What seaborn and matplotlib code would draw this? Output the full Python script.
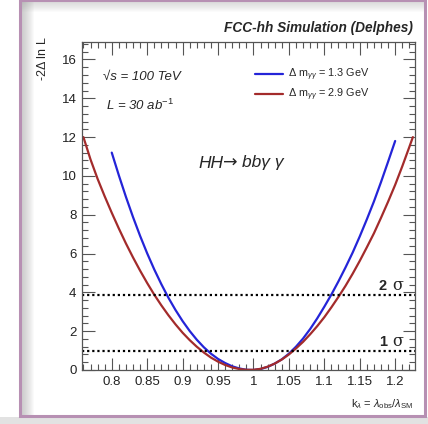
import numpy as np
import pandas as pd
import matplotlib
matplotlib.use("Agg")
import matplotlib.pyplot as plt
import seaborn as sns
from matplotlib.patches import Rectangle
from matplotlib.lines import Line2D
from matplotlib.ticker import MultipleLocator

# Values
kl_red = [0.76, 0.77, 0.78, 0.79, 0.80, 0.81, 0.82, 0.83, 0.84, 0.85, 0.86, 0.87,
          0.88, 0.89, 0.90, 0.91, 0.92, 0.93, 0.94, 0.95, 0.96, 0.97, 0.98, 0.99,
          1.00, 1.01, 1.02, 1.03, 1.04, 1.05, 1.06, 1.07, 1.08, 1.09, 1.10, 1.11,
          1.12, 1.13, 1.14, 1.15, 1.16, 1.17, 1.18, 1.19, 1.20, 1.21, 1.22, 1.225]
nll_red = [12.0, 10.85, 9.85, 8.95, 8.10, 7.29, 6.52, 5.80, 5.12, 4.48, 3.88, 3.33,
           2.82, 2.35, 1.92, 1.54, 1.20, 0.90, 0.64, 0.43, 0.26, 0.13, 0.05, 0.01,
           0.01, 0.06, 0.17, 0.33, 0.54, 0.80, 1.11, 1.45, 1.84, 2.26, 2.72, 3.23,
           3.77, 4.34, 4.96, 5.62, 6.32, 7.04, 7.84, 8.67, 9.54, 10.49, 11.49, 12.0]

kl_blue = [0.80, 0.81, 0.82, 0.83, 0.84, 0.85, 0.86, 0.87, 0.88, 0.89, 0.90,
           0.91, 0.92, 0.93, 0.94, 0.95, 0.96, 0.97, 0.98, 0.99, 1.00,
           1.01, 1.02, 1.03, 1.04, 1.05, 1.06, 1.07, 1.08, 1.09, 1.10,
           1.11, 1.12, 1.13, 1.14, 1.15, 1.16, 1.17, 1.18, 1.19, 1.20]
nll_blue = [11.2, 10.03, 8.92, 7.88, 6.91, 6.01, 5.18, 4.42, 3.72, 3.09, 2.52,
            2.01, 1.56, 1.17, 0.84, 0.57, 0.36, 0.19, 0.08, 0.01, 0.0,
            0.05, 0.16, 0.33, 0.55, 0.84, 1.20, 1.62, 2.11, 2.66, 3.26,
            3.89, 4.57, 5.29, 6.05, 6.88, 7.76, 8.68, 9.68, 10.73, 11.8]

labels = [r"$\Delta$ m$_{\gamma\gamma}$ = 1.3 GeV", r"$\Delta$ m$_{\gamma\gamma}$ = 2.9 GeV"]
colors = ["#2424d8", "#a32b2b"]
sigma_levels = [1.0, 3.84]
sigma_nums = ["1", "2"]

df = pd.concat([
    pd.DataFrame({"kl": kl_blue, "nll": nll_blue, "res": labels[0]}),
    pd.DataFrame({"kl": kl_red, "nll": nll_red, "res": labels[1]}),
])

sns.set_style("ticks")
plt.rcParams["font.family"] = ["Liberation Sans", "DejaVu Sans"]
plt.rcParams["mathtext.fontset"] = "custom"
plt.rcParams["mathtext.rm"] = "Liberation Sans"
plt.rcParams["mathtext.it"] = "Liberation Sans:italic"
plt.rcParams["mathtext.bf"] = "Liberation Sans:bold"

fig = plt.figure(figsize=(4.28, 4.24), dpi=100)

# frame with a soft shadow
for i in range(12):
    fig.patches.append(Rectangle((22 / 428, 8 / 424), (12 - i) / 428, 414 / 424, transform=fig.transFigure,
                                 color="#a0a0a0", alpha=0.05, lw=0, zorder=0))
    fig.patches.append(Rectangle((22 / 428, 1 - (10 - i) / 424 - 2 / 424), 402 / 428, (10 - i) / 424,
                                 transform=fig.transFigure, color="#a0a0a0", alpha=0.04, lw=0, zorder=0))
fig.patches.append(Rectangle((0, 0), 1, 7 / 424, transform=fig.transFigure,
                             color="#e2e2e2", lw=0, zorder=0))
fig.patches.append(Rectangle((20 / 428, 8 / 424), 405 / 428, 416 / 424, transform=fig.transFigure,
                             fill=False, edgecolor="#b790b3", lw=2.2, zorder=1))

ax = fig.add_axes([82 / 428, 54 / 424, 333 / 428, 328 / 424])
ax.patch.set_alpha(0)
sns.lineplot(data=df, x="kl", y="nll", hue="res", palette=colors,
             lw=1.6, ax=ax, legend=False, sort=False)

for lvl in sigma_levels:
    ax.axhline(lvl, color="black", ls=(0, (1, 1.3)), lw=1.6)

ax.set_xlim(0.758, 1.228)
ax.set_ylim(0, 16.9)
ax.xaxis.set_minor_locator(MultipleLocator(0.01))
ax.yaxis.set_minor_locator(MultipleLocator(0.4))
ax.set_xticks([0.8, 0.85, 0.9, 0.95, 1.0, 1.05, 1.1, 1.15, 1.2])
ax.set_xticklabels(["0.8", "0.85", "0.9", "0.95", "1", "1.05", "1.1", "1.15", "1.2"])
ax.set_yticks([0, 2, 4, 6, 8, 10, 12, 14, 16])
ax.tick_params(which="both", direction="in", top=True, right=True, colors="#555555",
               labelcolor="#222222", labelsize=9.5, width=0.8)
ax.tick_params(which="major", length=9, pad=4)
ax.tick_params(which="minor", length=4.5)
for s in ax.spines.values():
    s.set_color("#555555")
    s.set_linewidth(0.9)
ax.set_xlabel("")
ax.set_ylabel("")

fig.text(413 / 428, 1 - 28 / 424, "FCC-hh Simulation (Delphes)", ha="right", va="center",
         fontsize=9.8, fontweight="bold", fontstyle="italic")
fig.text(43 / 428, 1 - 36 / 424, r"-2$\Delta$ ln L", rotation=90, ha="center", va="top", fontsize=9)
fig.text(413 / 428, 1 - 404 / 424,
         r"k$_\lambda$ = $\lambda_{\rm obs}$/$\lambda_{\rm SM}$", ha="right", va="center", fontsize=8)

fig.text(103 / 428, 1 - 77 / 424, "\u221as = 100 TeV", fontsize=9.5, fontstyle="italic", va="center")
fig.text(106 / 428, 1 - 105 / 424, r"L = 30 ab$^{\mathit{-1}}$", fontsize=9.5, fontstyle="italic", va="center")

# process label, built in pieces so the arrow is a full-size glyph
renderer = fig.canvas.get_renderer()
x0 = 198
for piece, fam, gap in [("HH", "Liberation Sans", 0), ("\u2192", "DejaVu Sans", 0), ("bb\u03b3 \u03b3", "Liberation Sans", 4)]:
    t = fig.text((x0 + gap) / 428, 1 - 163 / 424, piece, fontsize=12.5, fontstyle="italic",
                 family=fam, va="center")
    x0 = t.get_window_extent(renderer).x1

for num, ypx in zip(sigma_nums, [342, 286]):
    fig.text(387 / 428, 1 - ypx / 424, num, fontsize=10.5, fontweight="bold", ha="right", va="center")
    fig.text(392 / 428, 1 - ypx / 424, "\u03c3", fontsize=11.5, family="DejaVu Serif",
             ha="left", va="center")

# legend
handles = [Line2D([], [], color=c, lw=1.6) for c in colors]
ax.legend(handles, labels, loc="upper left", bbox_to_anchor=(245 / 428, 1 - 57 / 424),
          bbox_transform=fig.transFigure, frameon=False, fontsize=7.8,
          handlelength=2.6, handletextpad=0.5, labelspacing=0.35)

fig.savefig("out.png", dpi=100)
